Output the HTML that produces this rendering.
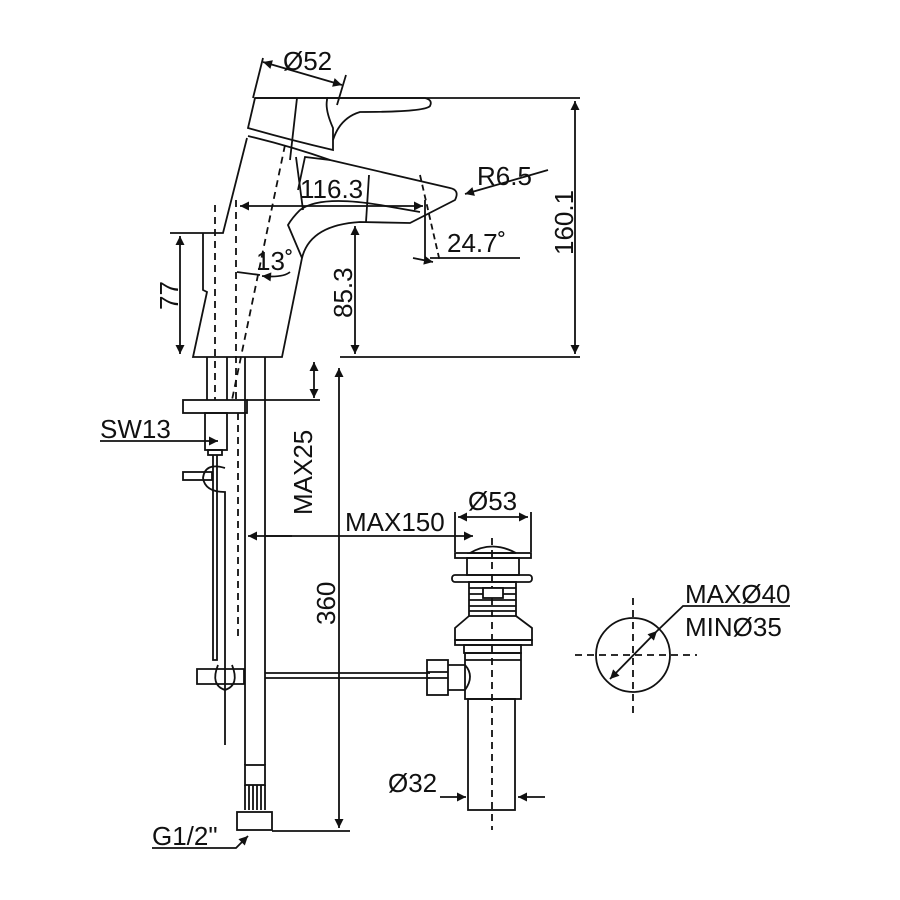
<!DOCTYPE html>
<html><head><style>body{margin:0;background:#fff}svg{display:block}text{font-family:"Liberation Sans",sans-serif;font-size:26px;fill:#111}</style></head><body>
<svg width="900" height="900" viewBox="0 0 900 900" xmlns="http://www.w3.org/2000/svg">
<defs><marker id="a" viewBox="0 0 10 10" refX="10" refY="5" markerWidth="12" markerHeight="9" orient="auto-start-reverse" markerUnits="userSpaceOnUse"><path d="M0,0L10,5L0,10z" fill="#111"/></marker></defs>
<g fill="none" stroke="#111" stroke-width="1.8">
<path d="M255,98 L248,128 Q290,140 333,150 L333,128 Q325,110 327,100 L327,98 Z"/>
<path d="M255,98 H580"/>
<path d="M327,98 H425 Q433,100 430,106 Q425,112 360,112 Q340,118 333,140"/>
<path d="M297,98 L290,160"/>
<path d="M248,136 Q290,146 330,160"/>
<path d="M247,138 L223,233 H170 M203,233 V290 L207,292 L193,357 H282 L302,258 Q310,225 360,222 L410,223 L455,200 Q460,190 450,188 L330,160 L305,157 L298,190 M300,210 Q292,218 288,225 L302,258 M300,210 Q320,195 380,205 L420,212"/>
<path d="M303,210 L296,157" />
<path d="M340,357 H580"/>
<path d="M369,175 L366,222"/>
<g stroke-dasharray="7,5"><path d="M215,205 V400"/><path d="M236,200 V400"/><path d="M285,145 L232,400"/><path d="M238,413 V640"/><path d="M492,538 V830"/><path d="M575,655 H697"/><path d="M633,598 V715"/></g>
<path d="M180,236 V354" marker-start="url(#a)" marker-end="url(#a)"/>
<path d="M575,101 V354" marker-start="url(#a)" marker-end="url(#a)"/>
<path d="M355,226 V354" marker-start="url(#a)" marker-end="url(#a)"/>
<path d="M240,206 H423" marker-start="url(#a)" marker-end="url(#a)"/>
<path d="M425,200 V262"/>
<path d="M420,175 L440,262" stroke-dasharray="6,4"/>
<path d="M430,258 H520"/>
<path d="M413,258 L433,262" marker-end="url(#a)"/>
<path d="M548,170 L465,194" marker-end="url(#a)"/>
<path d="M263,62 L342,85" marker-start="url(#a)" marker-end="url(#a)"/>
<path d="M263,58 L253,98 M346,75 L337,105"/>
<path d="M237,272 L260,275" /><path d="M290,272 Q283,278 262,276" marker-end="url(#a)"/>
<path d="M207,357 V400 M227,357 V400 M245,357 V765 M265,357 V765"/>
<rect x="183" y="400" width="64" height="13"/>
<path d="M247,400 H320"/>
<path d="M314,362 V398" marker-start="url(#a)" marker-end="url(#a)"/>
<rect x="205" y="413" width="22" height="37"/><rect x="208" y="450" width="14" height="5"/>
<path d="M213,455 V660 H217 V455"/>
<rect x="183" y="472" width="29" height="8"/><path d="M225,468 Q205,462 203,478 Q205,492 225,492 V745"/>
<path d="M197,669 H244 V684 H197 Z M218,665 Q210,685 225,690 Q240,685 232,665"/>
<path d="M265,673 H430 M265,678 H430"/>
<path d="M100,441 H218" marker-end="url(#a)"/>
<path d="M265,536 H473" marker-end="url(#a)"/><path d="M292,536 L248,536" marker-end="url(#a)"/>
<rect x="245" y="765" width="20" height="20"/><path d="M245,785 V810 M249,785 V810 M253,785 V810 M257,785 V810 M261,785 V810 M265,785 V810"/>
<rect x="237" y="812" width="35" height="18"/>
<path d="M272,831 H350"/>
<path d="M339,368 V828" marker-start="url(#a)" marker-end="url(#a)"/>
<path d="M152,848 H236 L248,836" marker-end="url(#a)"/>
<path d="M455,512 V552 M531,512 V552"/>
<path d="M458,517 H528" marker-start="url(#a)" marker-end="url(#a)"/>
<path d="M470,553 Q492,540 516,553 Z"/>
<rect x="455" y="553" width="76" height="5"/>
<rect x="467" y="558" width="52" height="17"/>
<rect x="452" y="575" width="80" height="7" rx="3"/>
<rect x="469" y="582" width="47" height="34"/>
<path d="M469,588 H516 M469,594 H516 M469,600 H516 M469,606 H516 M469,611 H516"/>
<rect x="483" y="588" width="20" height="10" fill="#fff"/>
<path d="M469,616 L455,628 V640 H532 V628 L516,616"/>
<rect x="455" y="640" width="77" height="5"/>
<rect x="464" y="645" width="57" height="8"/>
<rect x="465" y="653" width="56" height="46"/>
<path d="M465,660 H521"/>
<path d="M448,665 H465 Q475,676 465,690 H448"/>
<rect x="427" y="660" width="21" height="35"/>
<path d="M427,672 H448 M427,678 H448"/>
<rect x="468" y="699" width="47" height="111"/>
<path d="M440,797 H466" marker-end="url(#a)"/><path d="M545,797 H518" marker-end="url(#a)"/>
<circle cx="633" cy="655" r="37"/>
<path d="M610,679 L657,631" marker-start="url(#a)" marker-end="url(#a)"/>
<path d="M657,631 L683,606 H790"/>
</g>
<text x="283" y="70">Ø52</text>
<text x="300" y="198">116.3</text>
<text x="477" y="185">R6.5</text>
<text x="447" y="252">24.7˚</text>
<text x="256" y="270">13˚</text>
<text transform="translate(178,310) rotate(-90)">77</text>
<text transform="translate(352,318) rotate(-90)">85.3</text>
<text transform="translate(573,255) rotate(-90)">160.1</text>
<text x="100" y="438">SW13</text>
<text transform="translate(312,515) rotate(-90)">MAX25</text>
<text x="345" y="531">MAX150</text>
<text x="468" y="510">Ø53</text>
<text transform="translate(335,625) rotate(-90)">360</text>
<text x="388" y="792">Ø32</text>
<text x="152" y="845">G1/2"</text>
<text x="685" y="603">MAXØ40</text>
<text x="685" y="636">MINØ35</text>
</svg>
</body></html>
